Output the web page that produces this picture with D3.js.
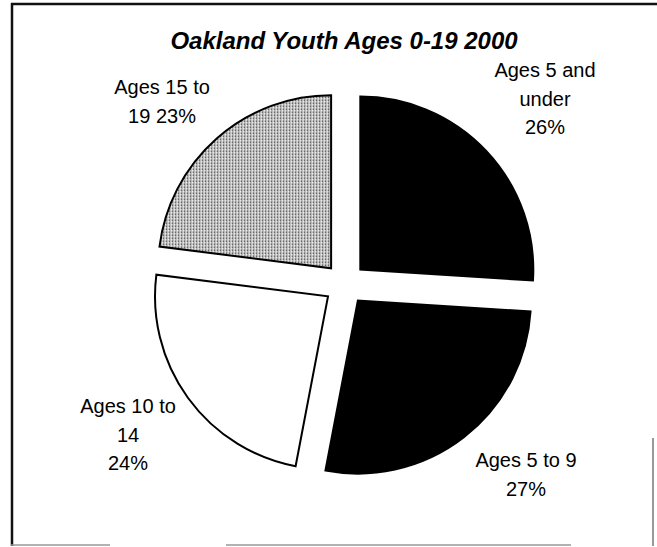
<!DOCTYPE html>
<html>
<head>
<meta charset="utf-8">
<script src="https://cdn.jsdelivr.net/npm/d3@7/dist/d3.min.js"></script>
<style>
  html, body { margin: 0; padding: 0; background: #fff; }
  svg { display: block; }
  text { font-family: "Liberation Sans", Arial, sans-serif; fill: #000; }
</style>
</head>
<body>
<svg id="chart" width="657" height="547"></svg>
<script>
// ---- data ----
const title = "Oakland Youth Ages 0-19 2000";
const categories = ["Ages 5 and under", "Ages 5 to 9", "Ages 10 to 14", "Ages 15 to 19"];
const values = [26, 27, 24, 23];
const labelLines = [
  ["Ages 5 and", "under", "26%"],
  ["Ages 5 to 9", "27%"],
  ["Ages 10 to", "14", "24%"],
  ["Ages 15 to", "19 23%"]
];

// ---- layout / style ----
const W = 657, H = 547;
const cx = 345, cy = 284, R = 173, explode = 21;
const fills = ["#000", "#000", "#fff", "url(#stipple)"];
const labelPos = [[545, 77], [526, 467], [128, 413], [162, 94]];
const lineH = 28.5;

const svg = d3.select("#chart");

// stipple pattern for grey slice
const defs = svg.append("defs");
const pat = defs.append("pattern").attr("id", "stipple")
  .attr("patternUnits", "userSpaceOnUse").attr("width", 3).attr("height", 3);
pat.append("rect").attr("width", 3).attr("height", 3).attr("fill", "#c4c4c4");
pat.append("rect").attr("x", 0).attr("y", 0).attr("width", 1).attr("height", 1).attr("fill", "#555");
pat.append("rect").attr("x", 0).attr("y", 2).attr("width", 1).attr("height", 1).attr("fill", "#777");
pat.append("rect").attr("x", 2).attr("y", 1).attr("width", 1).attr("height", 1).attr("fill", "#fff");

// frame
const frame = svg.append("g");
frame.append("line").attr("x1", 11).attr("x2", 657).attr("y1", 4).attr("y2", 4)
  .attr("stroke", "#111").attr("stroke-width", 2.5);
frame.append("line").attr("x1", 12).attr("x2", 12).attr("y1", 3).attr("y2", 546)
  .attr("stroke", "#111").attr("stroke-width", 2.5);
[[11, 110], [226, 571]].forEach(s => frame.append("line")
  .attr("x1", s[0]).attr("x2", s[1]).attr("y1", 545).attr("y2", 545)
  .attr("stroke", "#999").attr("stroke-width", 1.5));
frame.append("line").attr("x1", 653).attr("x2", 653).attr("y1", 438).attr("y2", 546)
  .attr("stroke", "#555").attr("stroke-width", 1.2);

// title
svg.append("text")
  .attr("x", 344).attr("y", 49)
  .attr("text-anchor", "middle")
  .attr("font-size", 24).attr("font-weight", "bold").attr("font-style", "italic")
  .text(title);

// pie
const pie = d3.pie().sort(null).value(d => d).startAngle(0).endAngle(2 * Math.PI);
const arcs = pie(values);
const arc = d3.arc().innerRadius(0).outerRadius(R);

const g = svg.append("g").attr("transform", `translate(${cx},${cy})`);
g.selectAll("path").data(arcs).enter().append("path")
  .attr("transform", d => {
    const a = (d.startAngle + d.endAngle) / 2;
    return `translate(${explode * Math.sin(a)},${-explode * Math.cos(a)})`;
  })
  .attr("d", arc)
  .attr("fill", (d, i) => fills[i])
  .attr("stroke", "#000")
  .attr("stroke-width", 2)
  .attr("stroke-linejoin", "miter");

// labels
labelLines.forEach((lines, i) => {
  const t = svg.append("text")
    .attr("text-anchor", "middle")
    .attr("font-size", 20);
  lines.forEach((ln, j) => {
    t.append("tspan").attr("x", labelPos[i][0]).attr("y", labelPos[i][1] + j * lineH).text(ln);
  });
});
</script>
</body>
</html>
